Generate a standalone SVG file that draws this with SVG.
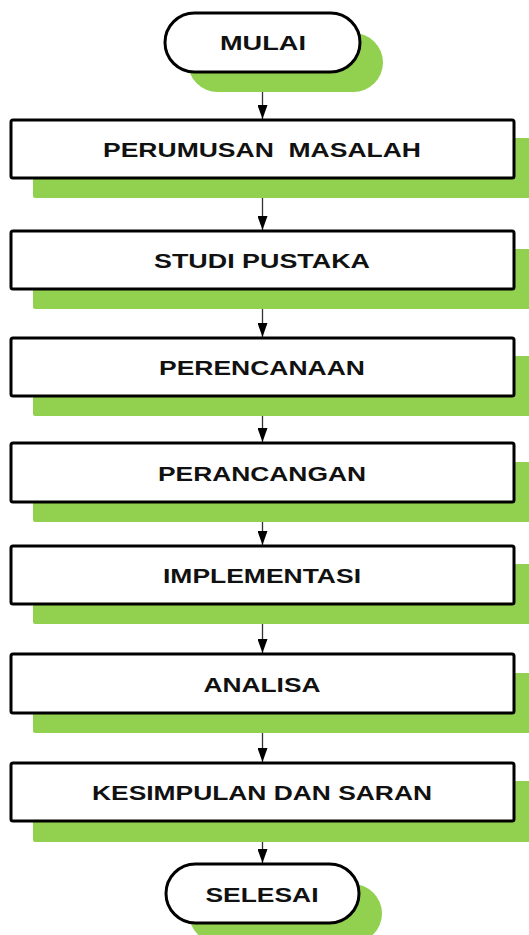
<svg xmlns="http://www.w3.org/2000/svg" width="529" height="935" viewBox="0 0 529 935">
  <defs>
    <marker id="arrow" markerWidth="14" markerHeight="10" refX="14" refY="5" orient="auto" markerUnits="userSpaceOnUse">
      <path d="M0,0 L14,5 L0,10 Z" fill="#000"/>
    </marker>
  </defs>
  <style>
    .shadow { fill: #92D050; }
    .box { fill: #fff; stroke: #000; stroke-width: 3; }
    .label { font-family: "Liberation Sans", Arial, sans-serif; font-weight: bold; font-size: 21px; fill: #111; text-anchor: middle; }
    .conn { stroke: #333; stroke-width: 1.3; fill: none; marker-end: url(#arrow); }
  </style>
  <rect width="529" height="935" fill="#fff"/>

  <!-- connectors -->
  <g id="connectors">
    <line class="conn" x1="262.5" y1="73" x2="262.5" y2="119"/>
    <line class="conn" x1="262.5" y1="179" x2="262.5" y2="230"/>
    <line class="conn" x1="262.5" y1="290" x2="262.5" y2="337"/>
    <line class="conn" x1="262.5" y1="397" x2="262.5" y2="442"/>
    <line class="conn" x1="262.5" y1="503" x2="262.5" y2="545"/>
    <line class="conn" x1="262.5" y1="605" x2="262.5" y2="653"/>
    <line class="conn" x1="262.5" y1="714" x2="262.5" y2="762"/>
    <line class="conn" x1="262.5" y1="822" x2="262.5" y2="863"/>
  </g>

  <!-- start terminator -->
  <g id="mulai">
    <rect class="shadow" x="188" y="33" width="195" height="59" rx="29.5"/>
    <rect class="box" x="165" y="13" width="195" height="59" rx="29.5"/>
    <text class="label" x="263" y="50" textLength="86" lengthAdjust="spacingAndGlyphs">MULAI</text>
  </g>

  <g id="perumusan-masalah">
    <rect class="shadow" x="33" y="138" width="510" height="60" rx="2"/>
    <rect class="box" x="11" y="120" width="503" height="58" rx="2"/>
    <text class="label" x="262" y="156.5" textLength="318" lengthAdjust="spacingAndGlyphs" xml:space="preserve">PERUMUSAN  MASALAH</text>
  </g>

  <g id="studi-pustaka">
    <rect class="shadow" x="33" y="249" width="510" height="60" rx="2"/>
    <rect class="box" x="11" y="231" width="503" height="58" rx="2"/>
    <text class="label" x="262" y="267.5" textLength="216" lengthAdjust="spacingAndGlyphs">STUDI PUSTAKA</text>
  </g>

  <g id="perencanaan">
    <rect class="shadow" x="33" y="356" width="510" height="60" rx="2"/>
    <rect class="box" x="11" y="338" width="503" height="58" rx="2"/>
    <text class="label" x="262" y="374.5" textLength="206" lengthAdjust="spacingAndGlyphs">PERENCANAAN</text>
  </g>

  <g id="perancangan">
    <rect class="shadow" x="33" y="462" width="510" height="60" rx="2"/>
    <rect class="box" x="11" y="443" width="503" height="59" rx="2"/>
    <text class="label" x="262" y="480.5" textLength="208" lengthAdjust="spacingAndGlyphs">PERANCANGAN</text>
  </g>

  <g id="implementasi">
    <rect class="shadow" x="33" y="564" width="510" height="60" rx="2"/>
    <rect class="box" x="11" y="546" width="503" height="58" rx="2"/>
    <text class="label" x="262" y="582.5" textLength="198" lengthAdjust="spacingAndGlyphs">IMPLEMENTASI</text>
  </g>

  <g id="analisa">
    <rect class="shadow" x="33" y="673" width="510" height="60" rx="2"/>
    <rect class="box" x="11" y="654" width="503" height="59" rx="2"/>
    <text class="label" x="262" y="691.5" textLength="117" lengthAdjust="spacingAndGlyphs">ANALISA</text>
  </g>

  <g id="kesimpulan-dan-saran">
    <rect class="shadow" x="33" y="781" width="510" height="61" rx="2"/>
    <rect class="box" x="11" y="763" width="503" height="58" rx="2"/>
    <text class="label" x="262" y="799.5" textLength="340" lengthAdjust="spacingAndGlyphs">KESIMPULAN DAN SARAN</text>
  </g>

  <!-- end terminator -->
  <g id="selesai">
    <rect class="shadow" x="189" y="884" width="193" height="59" rx="29.5"/>
    <rect class="box" x="166" y="864" width="193" height="59" rx="29.5"/>
    <text class="label" x="262" y="901.5" textLength="113" lengthAdjust="spacingAndGlyphs">SELESAI</text>
  </g>
</svg>
